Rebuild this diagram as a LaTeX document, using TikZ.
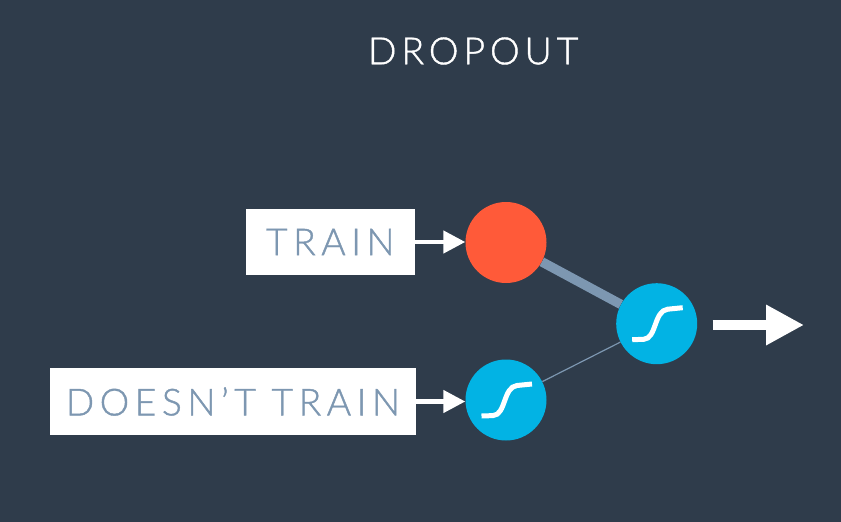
\documentclass[tikz,border=0pt]{standalone}
\usepackage{fontspec}
\setmainfont{Lato Light}
\usetikzlibrary{arrows.meta}
\definecolor{bgc}{HTML}{2F3C4B}
\definecolor{redc}{HTML}{FF5A39}
\definecolor{bluec}{HTML}{02B3E4}
\definecolor{slatec}{HTML}{7D97B1}
\newfontfamily\spaced[LetterSpace=15,RawFeature={embolden=1.1}]{Lato Light}
\newfontfamily\spacedt[LetterSpace=13,RawFeature={embolden=1.1}]{Lato Light}
\tikzset{
  neuron/.style={circle,inner sep=0pt,minimum size=81pt},
  label box/.style={fill=white,draw=none,inner sep=0pt,minimum height=66.5pt,text=slatec,
    font=\spaced\fontsize{37.2}{37.2}\selectfont},
  title text/.style={text=white,inner sep=0pt,font=\spacedt\fontsize{37.5}{37.5}\selectfont},
  in arrow/.style={white,line width=4.5pt,-{Triangle[length=22pt,width=22pt]}},
  out arrow/.style={white,line width=10pt,-{Triangle[length=38pt,width=38pt]}},
  sigmoid/.style={white,line width=5pt},
  thick link/.style={slatec,line width=9.5pt},
  thin link/.style={slatec,line width=1.2pt},
}
\newcommand{\sigcurve}[1]{%
  \draw[sigmoid,shift={(#1.center)}] (-24.5,16) -- (-13,15.6) .. controls (0,15) and (-3,-13) .. (11,-14.5) -- (26,-16);}
\begin{document}
\begin{tikzpicture}[x=1pt,y=-1pt]
\useasboundingbox (0,0) rectangle (841,522);
\fill[bgc] (0,0) rectangle (841,522);
\node[title text] (title) at (473.2,51) {DROPOUT};
\node[neuron] (red) at (506,242.5) {};
\node[neuron] (hid) at (506,400) {};
\node[neuron] (out) at (656.7,323.7) {};
\draw[thick link] (red) -- (out);
\draw[thin link] (hid) -- (out);
\node[neuron,fill=redc] at (red) {};
\node[neuron,fill=bluec] at (hid) {};
\node[neuron,fill=bluec] at (out) {};
\node[label box,minimum width=168.5pt] (train) at (330.3,242) {TRAIN};
\node[label box,minimum width=366pt] (dont) at (233,401.5) {DOESN’T TRAIN};
\coordinate (outa) at (712.5,325);
\coordinate (outb) at (804,325);
\draw[in arrow] (train.east) -- (red.west |- train.east);
\draw[in arrow] (dont.east) -- (hid.west |- dont.east);
\draw[out arrow] (outa) -- (outb);
\sigcurve{hid}
\sigcurve{out}
\end{tikzpicture}
\end{document}
